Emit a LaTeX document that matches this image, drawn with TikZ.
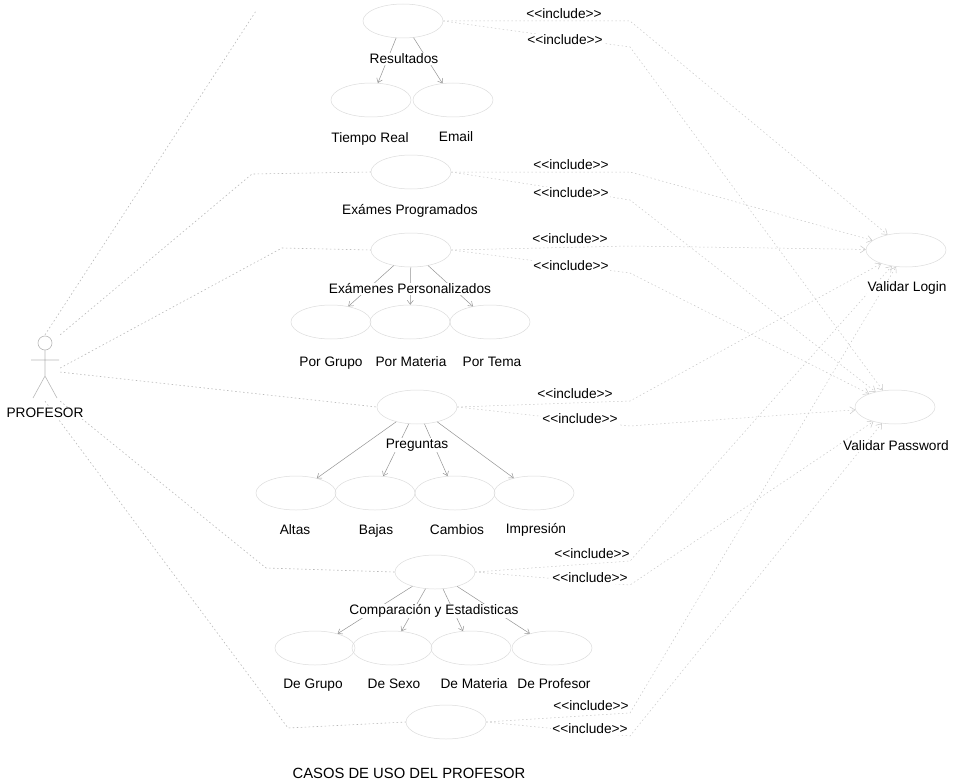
\documentclass[tikz,border=0pt]{standalone}
\usepackage{fontspec}
\setmainfont{Liberation Sans}
\usetikzlibrary{shapes.geometric,arrows.meta}
% stereotype text; the kerns keep << and >> from turning into guillemets
\newcommand\inclst{<\kern0pt<include>\kern0pt>}
\begin{document}
\begin{tikzpicture}[x=1pt,y=-1pt,
  font=\fontsize{13.7}{16}\selectfont,
  uc/.style={ellipse,draw=black!14,line width=0.5pt,minimum width=80pt,
             minimum height=34pt,inner sep=0pt},
  lbl/.style={inner sep=1pt,fill=white,anchor=center},
  inc/.style={inner sep=1pt,fill=white,anchor=center},
  assoc/.style={draw=black!28,line width=0.6pt,dash pattern=on 1.5pt off 2.5pt},
  incl/.style={draw=black!22,line width=0.5pt,dash pattern=on 1.5pt off 2.5pt,
               -{Straight Barb[length=5pt,width=7pt]}},
  sub/.style={draw=black!42,line width=0.5pt,
              -{Straight Barb[length=4pt,width=6pt]}},
  stick/.style={draw=black!28,line width=0.6pt}]
\useasboundingbox (0,0) rectangle (955,781);

% ---- use cases -------------------------------------------------------
\node[uc] (res)  at (403,21)  {};
\node[uc] (tr)   at (371,100) {};
\node[uc] (em)   at (453,100) {};
\node[uc] (prog) at (411,172) {};
\node[uc] (pers) at (411,250) {};
\node[uc] (pg)   at (331,322) {};
\node[uc] (pm)   at (410,322) {};
\node[uc] (pt)   at (490,322) {};
\node[uc] (preg) at (417,407) {};
\node[uc] (alt)  at (296,493) {};
\node[uc] (baj)  at (375,493) {};
\node[uc] (cam)  at (455,493) {};
\node[uc] (imp)  at (534,493) {};
\node[uc] (comp) at (435,572) {};
\node[uc] (dg)   at (315,648) {};
\node[uc] (ds)   at (392,648) {};
\node[uc] (dm)   at (471,648) {};
\node[uc] (dp)   at (552,648) {};
\node[uc] (bot)  at (446,722) {};
\node[uc] (vl)   at (906,250) {};
\node[uc] (vp)   at (895,407) {};

% ---- actor -----------------------------------------------------------
\node[minimum width=30pt,minimum height=66pt,inner sep=0pt] (actor) at (45,368) {};
\draw[stick] (45,343) circle (7);
\draw[stick] (45,350) -- (45,376)
             (31,360) -- (59,360)
             (33,398) -- (45,376) -- (57,398);

% ---- actor associations ----------------------------------------------
\coordinate (topend) at (256,11);
\draw[assoc] (actor.north) -- (topend);
\draw[assoc] (actor.north east) -- (252,174) -- (prog.west);
\draw[assoc] (actor.east) -- (282,248) -- (pers.west);
\draw[assoc] (actor.-15) -- (preg.west);
\draw[assoc] (actor.south east) -- (266,568) -- (comp.west);
\draw[assoc] (actor.south) -- (288,728) -- (bot.west);

% ---- decompositions --------------------------------------------------
\draw[sub] (res) -- (tr);
\draw[sub] (res) -- (em);
\draw[sub] (pers) -- (pg);
\draw[sub] (pers) -- (pm);
\draw[sub] (pers) -- (pt);
\draw[sub] (preg) -- (alt);
\draw[sub] (preg) -- (baj);
\draw[sub] (preg) -- (cam);
\draw[sub] (preg) -- (imp);
\draw[sub] (comp) -- (dg);
\draw[sub] (comp) -- (ds);
\draw[sub] (comp) -- (dm);
\draw[sub] (comp) -- (dp);

% ---- include relations to the validations ----------------------------
% each one runs out to the right under its label, then turns to the target
\foreach \u/\ya/\yb in {res/21/47,prog/172/200,pers/246/273,
                        preg/401/426,comp/561/585,bot/713/736}{
  \draw[incl] (\u.east) -- (630,\ya) -- (vl);
  \draw[incl] (\u.east) -- (630,\yb) -- (vp);
}
\node[inc] (i1a) at (564,14)  {\inclst};
\node[inc] (i1b) at (565,40)  {\inclst};
\node[inc] (i2a) at (571,165) {\inclst};
\node[inc] (i2b) at (571,193) {\inclst};
\node[inc] (i3a) at (570,239) {\inclst};
\node[inc] (i3b) at (571,266) {\inclst};
\node[inc] (i4a) at (575,394) {\inclst};
\node[inc] (i4b) at (580,419) {\inclst};
\node[inc] (i5a) at (592,554) {\inclst};
\node[inc] (i5b) at (590,578) {\inclst};
\node[inc] (i6a) at (591,706) {\inclst};
\node[inc] (i6b) at (590,729) {\inclst};

% ---- names -----------------------------------------------------------
\node[lbl] (actorL) at (45,413) {PROFESOR};
\node[lbl] (resL)  at (404,59)  {Resultados};
\node[lbl] (trL)   at (370,139) {Tiempo Real};
\node[lbl] (emL)   at (456,137) {Email};
\node[lbl] (progL) at (410,211) {Exámes Programados};
\node[lbl] (persL) at (410,289) {Exámenes Personalizados};
\node[lbl] (pgL)   at (331,363) {Por Grupo};
\node[lbl] (pmL)   at (411,362) {Por Materia};
\node[lbl] (ptL)   at (492,362) {Por Tema};
\node[lbl] (pregL) at (417,445) {Preguntas};
\node[lbl] (altL)  at (295,530) {Altas};
\node[lbl] (bajL)  at (376,531) {Bajas};
\node[lbl] (camL)  at (457,530) {Cambios};
\node[lbl] (impL)  at (536,530) {Impresión};
\node[lbl] (compL) at (434,611) {Comparación y Estadisticas};
\node[lbl] (dgL)   at (313,685) {De Grupo};
\node[lbl] (dsL)   at (394,684) {De Sexo};
\node[lbl] (dmL)   at (474,684) {De Materia};
\node[lbl] (dpL)   at (554,684) {De Profesor};
\node[lbl] (vlL)   at (907,288) {Validar Login};
\node[lbl] (vpL)   at (896,446) {Validar Password};

% ---- title -----------------------------------------------------------
\node[lbl,font=\fontsize{14.8}{17}\selectfont] (title) at (409,773)
  {CASOS DE USO DEL PROFESOR};
\end{tikzpicture}
\end{document}
